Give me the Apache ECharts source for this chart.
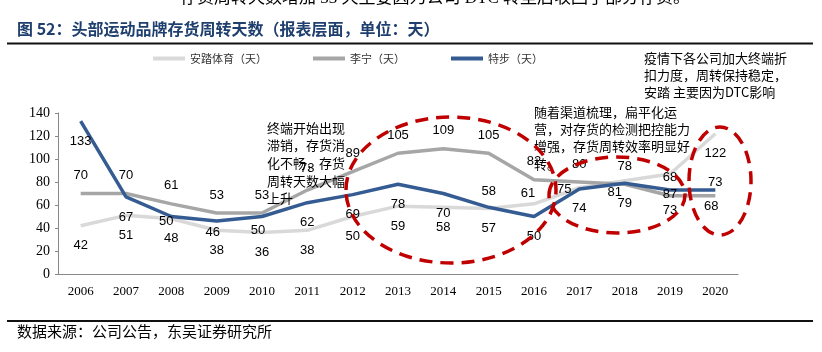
<!DOCTYPE html>
<html>
<head>
<meta charset="utf-8">
<script src="https://cdn.jsdelivr.net/npm/echarts@6/dist/echarts.min.js"></script>
<style>
  html, body { margin: 0; padding: 0; background: #fff; }
  #main { width: 822px; height: 352px; }
</style>
</head>
<body>
<div id="main"></div>
<script>
// 年份 & 存货周转天数
const years = ['2006', '2007', '2008', '2009', '2010', '2011', '2012', '2013', '2014', '2015', '2016', '2017', '2018', '2019', '2020'];
const antaDays = [42, 51, 48, 38, 36, 38, 50, 59, 58, 57, 61, 75, 81, 87, 122];
const liningDays = [70, 70, 61, 53, 53, 73, 89, 105, 109, 105, 82, 80, 78, 68, 68];
const xtepDays = [133, 67, 50, 46, 50, 62, 69, 78, 70, 58, 50, 74, 79, 73, 73];
const seriesNames = ['安踏体育（天）', '李宁（天）', '特步（天）'];
const yTicks = [0, 20, 40, 60, 80, 100, 120, 140];

// 数据标签的位置微调（原图是手动摆放的）
const labelShift = {
  anta: { def: [0, 20], 10: [-6, -10], 11: [-15, 2], 12: [-10, 12] },
  lining: { def: [0, -18], 5: [0, -22], 14: [-4, 11] },
  xtep: { def: [0, 20], 2: [-5, 5], 3: [-4, 11], 4: [-4, 14], 9: [0, -16], 14: [0, -8] }
};

function withLabels(values, shift) {
  return values.map((v, i) => ({
    value: v,
    label: { offset: shift[i] || shift.def }
  }));
}

const labelFont = { show: true, position: 'inside', color: '#000', fontSize: 13, fontFamily: 'Liberation Sans, Arial' };

const chart = echarts.init(document.getElementById('main'));
chart.setOption({
  animation: false,
  grid: { left: 58, right: 84, top: 113, bottom: 78 },
  legend: {
    data: seriesNames,
    left: 148,
    top: 48,
    icon: 'rect',
    itemWidth: 32,
    itemHeight: 4,
    itemGap: 46,
    textStyle: { fontSize: 11, color: '#333', fontFamily: 'Noto Sans CJK SC' }
  },
  xAxis: {
    type: 'category',
    data: years,
    boundaryGap: true,
    axisLine: { lineStyle: { color: '#888', width: 1 } },
    axisTick: { inside: true, length: 4, lineStyle: { color: '#888' } },
    axisLabel: { color: '#000', fontSize: 13, fontFamily: 'Liberation Serif', margin: 11 }
  },
  yAxis: {
    type: 'value',
    min: yTicks[0],
    max: yTicks[yTicks.length - 1],
    interval: 20,
    splitLine: { show: false },
    axisLine: { show: true, lineStyle: { color: '#888', width: 1 } },
    axisTick: { show: true, length: 3, lineStyle: { color: '#888' } },
    axisLabel: { color: '#000', fontSize: 14, fontFamily: 'Liberation Serif', margin: 8 }
  },
  series: [
    {
      name: seriesNames[0],
      type: 'line',
      symbol: 'circle',
      symbolSize: 0,
      lineStyle: { color: '#D9D9D9', width: 3.5 },
      itemStyle: { color: '#D9D9D9' },
      label: labelFont,
      data: withLabels(antaDays, labelShift.anta)
    },
    {
      name: seriesNames[1],
      type: 'line',
      symbol: 'circle',
      symbolSize: 0,
      lineStyle: { color: '#A6A6A6', width: 3.5 },
      itemStyle: { color: '#A6A6A6' },
      label: labelFont,
      data: withLabels(liningDays, labelShift.lining)
    },
    {
      name: seriesNames[2],
      type: 'line',
      symbol: 'circle',
      symbolSize: 0,
      lineStyle: { color: '#355C92', width: 3.5 },
      itemStyle: { color: '#355C92' },
      label: labelFont,
      data: withLabels(xtepDays, labelShift.xtep)
    }
  ],
  graphic: [
    // 上一段正文被截掉的一行
    { type: 'text', left: 180, top: -10, z: 100,
      style: { text: '存货周转天数增加 33 天主要因为公司 DTC 转型后收回了部分存货。', fill: '#000', font: '17px "Liberation Serif", "Noto Sans CJK SC"' } },
    { type: 'text', left: 17, top: 21, z: 100,
      style: { text: '图 52：头部运动品牌存货周转天数（报表层面，单位：天）', fill: '#1F3F6E', font: 'bold 16px "Noto Sans CJK SC"' } },
    { type: 'line', z: 100, shape: { x1: 7, y1: 43.5, x2: 813, y2: 43.5 }, style: { stroke: '#111', lineWidth: 2 } },
    { type: 'line', z: 100, shape: { x1: 7, y1: 321, x2: 813, y2: 321 }, style: { stroke: '#111', lineWidth: 2 } },
    { type: 'text', left: 17, top: 324, z: 100,
      style: { text: '数据来源：公司公告，东吴证券研究所', fill: '#000', font: '15px "Noto Sans CJK SC"' } },
    // 注释文字
    { type: 'text', left: 267, top: 119, z: 100,
      style: { text: '终端开始出现\n滞销，存货消\n化不畅，存货\n周转天数大幅\n上升', fill: '#000', font: '13px "Noto Sans CJK SC"', lineHeight: 17.6 } },
    { type: 'text', left: 534, top: 103, z: 100,
      style: { text: '随着渠道梳理，扁平化运\n营，对存货的检测把控能力\n增强，存货周转效率明显好\n转。', fill: '#000', font: '13px "Noto Sans CJK SC"', lineHeight: 17.4 } },
    { type: 'text', left: 644, top: 50, z: 100,
      style: { text: '疫情下各公司加大终端折\n扣力度，周转保持稳定，\n安踏 主要因为DTC影响', fill: '#000', font: '13px "Noto Sans CJK SC"', lineHeight: 17 } },
    // 红色虚线圈
    { type: 'ellipse', z: 110, shape: { cx: 451, cy: 190, rx: 105, ry: 73 },
      style: { fill: 'none', stroke: '#C00000', lineWidth: 3.5, lineDash: [13, 8] } },
    { type: 'ellipse', z: 110, shape: { cx: 617, cy: 195, rx: 68, ry: 38 },
      style: { fill: 'none', stroke: '#C00000', lineWidth: 3.5, lineDash: [13, 8] } },
    { type: 'ellipse', z: 110, shape: { cx: 720, cy: 181, rx: 31, ry: 54 },
      style: { fill: 'none', stroke: '#C00000', lineWidth: 3.5, lineDash: [13, 8] } }
  ]
});
window.addEventListener('resize', () => {
  chart.resize();
});
</script>
</body>
</html>
